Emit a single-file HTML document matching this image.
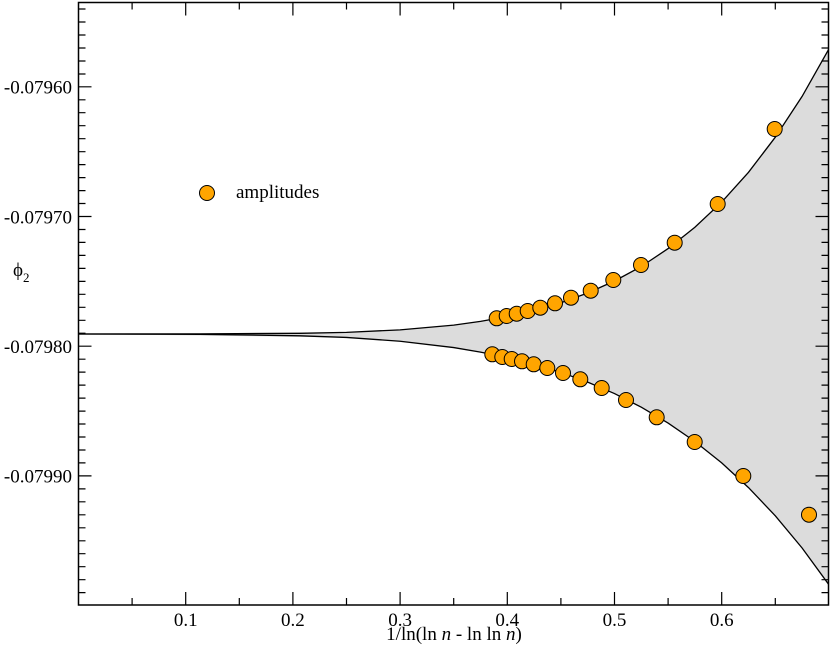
<!DOCTYPE html>
<html><head><style>
html,body{margin:0;padding:0;background:#fff;}
svg{display:block;font-family:"Liberation Serif",serif;}
</style></head><body>
<svg width="830" height="652" viewBox="0 0 830 652" xmlns="http://www.w3.org/2000/svg">
<defs><clipPath id="c"><rect x="78.5" y="2.5" width="750" height="602.5"/></clipPath></defs>
<g clip-path="url(#c)">
<polygon fill="#dcdcdc" stroke="none" points="78.5,334 346.5,332.34 400.1,329.88 453.7,325.09 480.5,321.4 507.3,316.63 534.1,310.6 560.9,302.7 587.7,293 614.5,281 641.3,266.5 668.1,248.6 694.9,227.2 721.7,202.1 748.5,172.3 775.3,137.2 802.1,96.4 828.9,49 828.9,584.7 802.1,548 775.3,515.8 748.5,487.6 721.7,462.9 694.9,441.5 668.1,423.05 641.3,407.2 614.5,393.55 587.7,382.1 560.9,372.32 534.1,364.2 507.3,357.51 480.5,352.1 453.7,347.57 400.1,341.23 346.5,337.44 78.5,334"/>
<polyline fill="none" stroke="#000" stroke-width="1.3" points="78.5,334 200,333.9 300,333.3 346.5,332.34 400.1,329.88 453.7,325.09 480.5,321.4 507.3,316.63 534.1,310.6 560.9,302.7 587.7,293 614.5,281 641.3,266.5 668.1,248.6 694.9,227.2 721.7,202.1 748.5,172.3 775.3,137.2 802.1,96.4 828.9,49"/>
<polyline fill="none" stroke="#000" stroke-width="1.3" points="78.5,334 200,334.3 300,335.8 346.5,337.44 400.1,341.23 453.7,347.57 480.5,352.1 507.3,357.51 534.1,364.2 560.9,372.32 587.7,382.1 614.5,393.55 641.3,407.2 668.1,423.05 694.9,441.5 721.7,462.9 748.5,487.6 775.3,515.8 802.1,548 828.9,584.7"/>
</g>
<rect x="78.5" y="2.5" width="750" height="602.5" fill="none" stroke="#000" stroke-width="1.5"/>
<g stroke="#000" stroke-width="1.2">
<path d="M185.7,605v-13M292.9,605v-13M400.1,605v-13M507.3,605v-13M614.5,605v-13M721.7,605v-13M185.7,2.5v13M292.9,2.5v13M400.1,2.5v13M507.3,2.5v13M614.5,2.5v13M721.7,2.5v13"/>
<path d="M132.1,605v-7M239.3,605v-7M346.5,605v-7M453.7,605v-7M560.9,605v-7M668.1,605v-7M775.3,605v-7M132.1,2.5v7M239.3,2.5v7M346.5,2.5v7M453.7,2.5v7M560.9,2.5v7M668.1,2.5v7M775.3,2.5v7"/>
<path d="M78.5,86.8h13M78.5,216.5h13M78.5,346.2h13M78.5,475.9h13M828.5,86.8h-13M828.5,216.5h-13M828.5,346.2h-13M828.5,475.9h-13"/>
<path d="M78.5,9h7M78.5,22h7M78.5,35h7M78.5,48h7M78.5,61h7M78.5,74h7M78.5,99.8h7M78.5,112.7h7M78.5,125.7h7M78.5,138.7h7M78.5,151.7h7M78.5,164.6h7M78.5,177.6h7M78.5,190.6h7M78.5,203.5h7M78.5,229.5h7M78.5,242.4h7M78.5,255.4h7M78.5,268.4h7M78.5,281.4h7M78.5,294.3h7M78.5,307.3h7M78.5,320.3h7M78.5,333.2h7M78.5,359.2h7M78.5,372.1h7M78.5,385.1h7M78.5,398.1h7M78.5,411.1h7M78.5,424h7M78.5,437h7M78.5,450h7M78.5,462.9h7M78.5,488.9h7M78.5,501.8h7M78.5,514.8h7M78.5,527.8h7M78.5,540.8h7M78.5,553.7h7M78.5,566.7h7M78.5,579.7h7M78.5,592.6h7"/>
<path d="M828.5,9h-7M828.5,22h-7M828.5,35h-7M828.5,48h-7M828.5,61h-7M828.5,74h-7M828.5,99.8h-7M828.5,112.7h-7M828.5,125.7h-7M828.5,138.7h-7M828.5,151.7h-7M828.5,164.6h-7M828.5,177.6h-7M828.5,190.6h-7M828.5,203.5h-7M828.5,229.5h-7M828.5,242.4h-7M828.5,255.4h-7M828.5,268.4h-7M828.5,281.4h-7M828.5,294.3h-7M828.5,307.3h-7M828.5,320.3h-7M828.5,333.2h-7M828.5,359.2h-7M828.5,372.1h-7M828.5,385.1h-7M828.5,398.1h-7M828.5,411.1h-7M828.5,424h-7M828.5,437h-7M828.5,450h-7M828.5,462.9h-7M828.5,488.9h-7M828.5,501.8h-7M828.5,514.8h-7M828.5,527.8h-7M828.5,540.8h-7M828.5,553.7h-7M828.5,566.7h-7M828.5,579.7h-7M828.5,592.6h-7"/>
</g>
<g font-size="19" fill="#000" text-anchor="middle">
<text x="185.7" y="626">0.1</text><text x="292.9" y="626">0.2</text><text x="400.1" y="626">0.3</text><text x="507.3" y="626">0.4</text><text x="614.5" y="626">0.5</text><text x="721.7" y="626">0.6</text>
<text x="454" y="640">1/ln(ln <tspan font-style="italic">n</tspan> - ln ln <tspan font-style="italic">n</tspan>)</text>
</g>
<g font-size="19" fill="#000" text-anchor="end">
<text x="72" y="93.5">-0.07960</text><text x="72" y="223.3">-0.07970</text><text x="72" y="353">-0.07980</text><text x="72" y="482.7">-0.07990</text>
</g>
<text x="13" y="276" font-size="19">ϕ<tspan font-size="13" dy="6">2</tspan></text>
<g fill="#ffa500" stroke="#000" stroke-width="1">
<circle cx="207" cy="193" r="7.5"/>
<circle cx="496.7" cy="318.3" r="7.5"/><circle cx="506.7" cy="316" r="7.5"/><circle cx="516.7" cy="313.7" r="7.5"/><circle cx="527.7" cy="311" r="7.5"/><circle cx="540.3" cy="307.7" r="7.5"/><circle cx="555" cy="303.3" r="7.5"/><circle cx="571" cy="297.7" r="7.5"/><circle cx="590.7" cy="290.7" r="7.5"/><circle cx="613.3" cy="280" r="7.5"/><circle cx="641" cy="265" r="7.5"/><circle cx="674.7" cy="242.7" r="7.5"/><circle cx="717.7" cy="204" r="7.5"/><circle cx="774.7" cy="129" r="7.5"/>
<circle cx="492.3" cy="354.3" r="7.5"/><circle cx="502.3" cy="357" r="7.5"/><circle cx="511.7" cy="359" r="7.5"/><circle cx="522" cy="361.3" r="7.5"/><circle cx="533.7" cy="364.3" r="7.5"/><circle cx="547.3" cy="368" r="7.5"/><circle cx="563" cy="373" r="7.5"/><circle cx="580.3" cy="379.3" r="7.5"/><circle cx="601.7" cy="388" r="7.5"/><circle cx="626" cy="400" r="7.5"/><circle cx="656.7" cy="417.3" r="7.5"/><circle cx="694.7" cy="442" r="7.5"/><circle cx="743.3" cy="476" r="7.5"/><circle cx="809" cy="514.7" r="7.5"/>
</g>
<text x="236" y="198" font-size="19" fill="#000">amplitudes</text>
</svg>
</body></html>
